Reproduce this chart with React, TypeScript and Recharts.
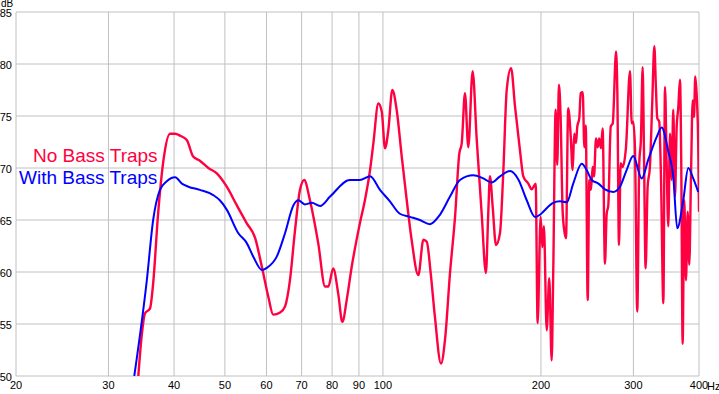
import { LineChart, Line, XAxis, YAxis, CartesianGrid } from 'recharts';

// axis ticks
const freqTicks = [20, 30, 40, 50, 60, 70, 80, 90, 100, 200, 300, 400];
const dbTicks = [50, 55, 60, 65, 70, 75, 80, 85];

// "No Bass Traps" response (Hz / dB)
const noTrapsHz = [
  34.2, 34.7, 35.2, 36.0, 36.5, 37.3, 38.2, 39.3, 40.2, 41.1, 42.3, 43.5, 44.8, 46.5, 48.2, 50.4,
  52.7, 55.0, 57.1, 58.8, 60.5, 61.8, 63.7, 65.1, 66.5, 68.0, 69.5, 70.8, 72.6, 75.3, 77.6, 78.7,
  80.4, 82.2, 83.7, 85.3, 87.2, 90.4, 92.4, 94.5, 95.9, 98.0, 99.5, 100.9, 102.4, 104.2, 106.2, 108.6,
  111.0, 113.4, 116.8, 119.4, 121.2, 123.3, 125.6, 129.0, 131.3, 134.2, 137.2, 139.8, 141.3, 143.3, 145.4, 148.2,
  150.9, 154.2, 157.1, 158.7, 159.9, 161.8, 164.2, 167.1, 169.5, 172.1, 175.4, 178.5, 182.4, 185.1, 189.2, 192.0,
  195.4, 197.1, 199.7, 201.2, 202.6, 205.1, 207.4, 209.6, 211.0, 213.3, 214.8, 216.4, 218.0, 219.9, 221.5, 223.2,
  225.4, 227.8, 229.8, 231.4, 233.2, 234.5, 236.6, 238.1, 240.2, 241.9, 243.4, 245.5, 247.2, 249.0, 250.9, 252.4,
  254.6, 256.5, 258.2, 260.2, 262.1, 264.8, 266.8, 268.7, 271.6, 274.0, 278.0, 279.6, 281.6, 283.7, 286.2, 290.4,
  295.5, 297.8, 299.8, 302.0, 305.1, 307.8, 310.1, 312.4, 314.2, 316.5, 319.3, 322.5, 325.8, 328.8, 331.1, 333.1,
  336.0, 338.6, 342.1, 344.6, 347.1, 349.6, 352.2, 354.9, 357.3, 360.0, 362.7, 365.2, 368.0, 370.0, 372.3, 375.0,
  377.8, 380.6, 383.3, 386.2, 389.1, 391.3, 393.5, 396.4, 398.6, 400.0,
];
const noTrapsDb = [
  50.0, 53.8, 56.0, 56.5, 58.9, 65.6, 70.8, 73.3, 73.3, 73.1, 72.7, 71.1, 70.7, 70.0, 69.5, 68.2,
  66.4, 64.7, 63.25, 60.5, 57.6, 55.9, 56.1, 56.7, 59.2, 64.0, 67.9, 68.85, 66.9, 62.75, 58.6, 58.6,
  60.35, 57.9, 55.2, 57.3, 60.5, 64.7, 66.9, 69.8, 72.4, 76.2, 75.4, 71.9, 73.65, 77.5, 75.6, 71.1,
  66.9, 63.1, 59.7, 63.1, 62.9, 59.9, 55.7, 51.2, 53.5, 59.9, 65.3, 71.4, 72.4, 77.2, 72.0, 79.3,
  72.7, 65.6, 59.9, 65.6, 69.2, 66.3, 62.6, 63.75, 69.5, 77.5, 79.6, 75.9, 71.7, 69.2, 68.5, 67.95,
  68.5, 55.1, 65.3, 62.4, 64.4, 54.4, 59.4, 51.5, 59.55, 75.6, 70.3, 78.0, 74.9, 65.95, 64.0, 63.25,
  75.75, 73.2, 69.8, 73.3, 72.4, 73.95, 74.8, 77.2, 77.3, 72.0, 74.1, 57.3, 68.85, 67.9, 70.1, 69.2,
  72.85, 72.0, 72.85, 71.9, 73.8, 60.8, 65.6, 66.4, 74.0, 74.3, 81.2, 77.2, 62.6, 70.45, 70.1, 72.0,
  79.3, 74.3, 74.45, 72.0, 56.2, 70.45, 72.85, 79.7, 71.7, 60.35, 68.2, 70.1, 76.2, 81.7, 77.8, 74.8,
  74.45, 69.0, 57.0, 77.8, 70.45, 64.4, 73.3, 68.85, 75.6, 67.25, 74.0, 75.75, 78.5, 70.8, 53.1, 66.9,
  59.2, 65.8, 60.7, 69.2, 76.5, 74.9, 78.8, 76.5, 72.4, 65.8,
];

// "With Bass Traps" response (Hz / dB)
const withTrapsHz = [
  33.6, 35.5, 36.5, 37.6, 38.7, 40.2, 41.4, 42.6, 44.8, 47.5, 48.9, 50.4, 53.0, 55.0, 56.6, 58.8,
  60.1, 62.8, 65.1, 67.5, 69.0, 71.0, 73.2, 75.9, 79.3, 86.5, 90.4, 94.5, 98.7, 103.1, 107.7, 112.6,
  117.6, 122.9, 128.4, 134.2, 140.2, 148.6, 155.3, 161.1, 167.1, 174.6, 181.1, 187.9, 194.8, 199.1, 202.0, 211.0,
  217.4, 223.9, 230.4, 239.2, 244.4, 249.9, 257.3, 264.8, 274.6, 282.8, 291.2, 299.8, 311.1, 320.2, 332.3, 339.6,
  349.6, 357.3, 363.6, 373.3, 381.6, 390.0, 398.6,
];
const withTrapsDb = [
  50.0, 59.2, 65.0, 67.9, 68.7, 69.1, 68.5, 68.2, 67.9, 67.4, 66.9, 66.0, 63.75, 62.8, 61.5, 60.2,
  60.4, 61.5, 63.75, 66.4, 66.9, 66.5, 66.65, 66.35, 67.25, 68.85, 68.85, 69.2, 67.9, 66.8, 65.6, 65.3,
  65.0, 64.6, 65.5, 67.25, 68.85, 69.3, 69.0, 68.6, 69.2, 69.7, 68.9, 66.9, 65.3, 65.5, 65.8, 66.65,
  66.8, 66.7, 68.5, 70.4, 69.8, 68.85, 68.5, 67.95, 67.7, 68.2, 69.8, 71.15, 69.0, 70.8, 73.0, 73.9,
  71.6, 69.2, 64.2, 66.9, 70.0, 69.0, 67.7,
];

const noTraps = noTrapsHz.map((f, i) => ({ f, db: noTrapsDb[i] }));
const withTraps = withTrapsHz.map((f, i) => ({ f, db: withTrapsDb[i] }));

const RED = '#ff0040';
const BLUE = '#0000ff';
const GRID = '#c0c0c0';
const FONT = '"Liberation Sans", Arial, sans-serif';

export default function App() {
  return (
    <div style={{ position: 'absolute', left: 0, top: 0, width: 719, height: 394, background: '#fff', fontFamily: FONT }}>
      <LineChart width={719} height={394} margin={{ top: 12, right: 20, left: 0, bottom: 0 }}>
        <CartesianGrid stroke={GRID} strokeWidth={1} />
        <XAxis
          dataKey="f"
          type="number"
          scale="log"
          domain={[20, 400]}
          ticks={freqTicks}
          allowDataOverflow
          axisLine={false}
          tickLine={false}
          tickSize={0}
          tickMargin={5}
          height={18}
          interval={0}
          tick={{ fill: '#000', fontSize: 11, fontFamily: FONT }}
        />
        <YAxis
          type="number"
          domain={[50, 85]}
          ticks={dbTicks}
          allowDataOverflow
          axisLine={false}
          tickLine={false}
          tickSize={0}
          tickMargin={4}
          width={16}
          interval={0}
          tick={{ fill: '#000', fontSize: 11, fontFamily: FONT, dy: 1 }}
        />
        <Line
          data={noTraps}
          dataKey="db"
          type="monotone"
          stroke={RED}
          strokeWidth={2.4}
          dot={false}
          isAnimationActive={false}
        />
        <Line
          data={withTraps}
          dataKey="db"
          type="monotone"
          stroke={BLUE}
          strokeWidth={2}
          dot={false}
          isAnimationActive={false}
        />
      </LineChart>
      {/* unit labels */}
      <div style={{ position: 'absolute', left: 1, top: 0, fontSize: 10, lineHeight: '8px', color: '#000' }}>dB</div>
      <div style={{ position: 'absolute', left: 707, top: 381, fontSize: 11, lineHeight: '11px', color: '#000' }}>Hz</div>
      {/* legend */}
      <div style={{ position: 'absolute', left: 33, top: 145, fontSize: 19, color: RED, whiteSpace: 'nowrap' }}>No Bass Traps</div>
      <div style={{ position: 'absolute', left: 19, top: 167, fontSize: 19, color: BLUE, whiteSpace: 'nowrap' }}>With Bass Traps</div>
    </div>
  );
}
